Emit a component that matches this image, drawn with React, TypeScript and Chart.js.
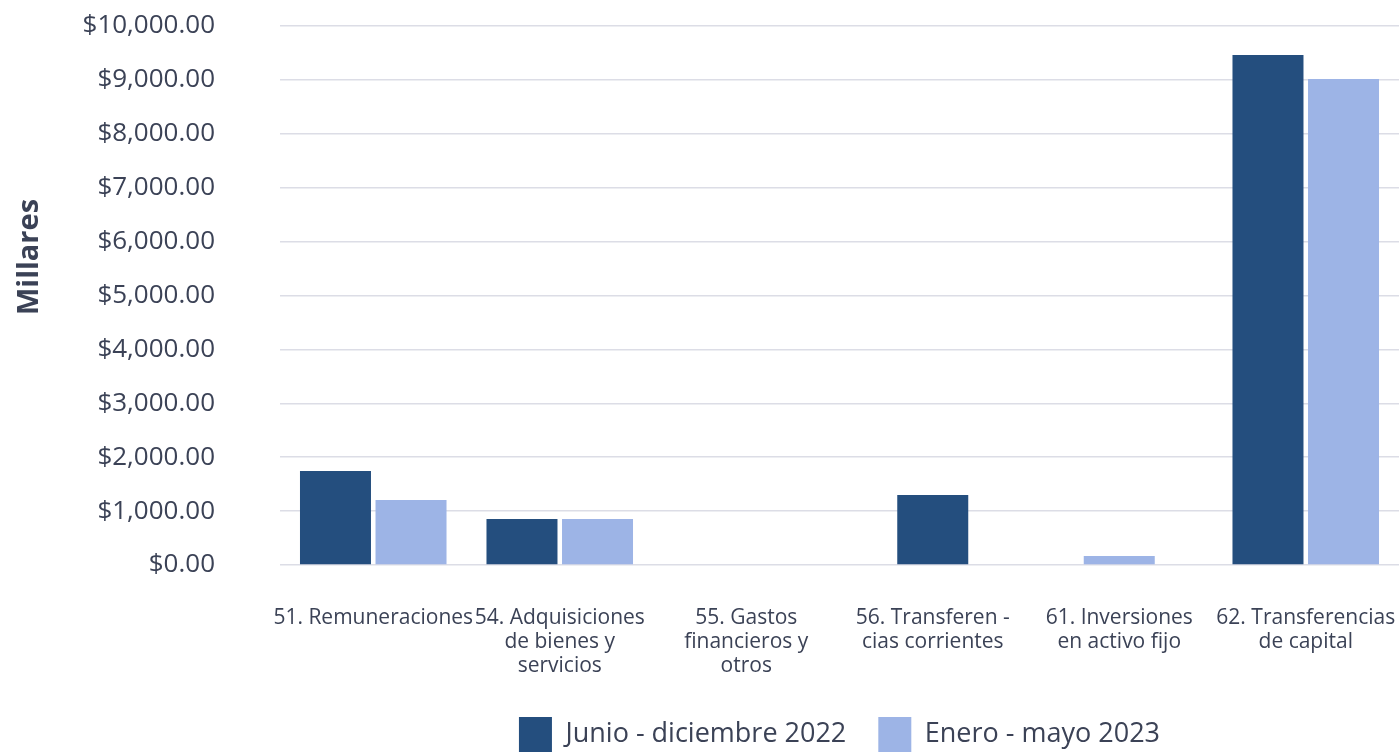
import React, { useEffect, useRef } from "react";
import { Chart, registerables } from "chart.js";

Chart.register(...registerables);

const categories: string[][] = [
  ["51. Remuneraciones"],
  ["54. Adquisiciones", "de bienes y", "servicios"],
  ["55. Gastos", "financieros y", "otros"],
  ["56. Transferen -", "cias corrientes"],
  ["61. Inversiones", "en activo fijo"],
  ["62. Transferencias", "de capital"],
];
const seriesNames = ["Junio - diciembre 2022", "Enero - mayo 2023"];
const junioDic2022: (number | null)[] = [1744, 853, null, 1299, null, 9463];
const eneroMayo2023: (number | null)[] = [1206, 853, null, null, 167, 9019];
const yAxisTitle = "Millares";

const TEXT = "#3b4256";
const FONT = "'Open Sans', Lato, sans-serif";
const CANVAS_H = 762;

const yTitlePlugin = {
  id: "yTitlePlugin",
  afterDraw(chart: any) {
    const ctx = chart.ctx;
    ctx.save();
    ctx.translate(30, 257);
    ctx.rotate(-Math.PI / 2);
    ctx.font = `bold 29px ${FONT}`;
    ctx.fillStyle = TEXT;
    ctx.textAlign = "center";
    ctx.textBaseline = "middle";
    ctx.fillText(yAxisTitle, 0, 0);
    ctx.restore();
  },
};

export default function App() {
  const ref = useRef<HTMLCanvasElement | null>(null);
  useEffect(() => {
    if (!ref.current) return;
    const chart = new Chart(ref.current, {
      type: "bar",
      data: {
        labels: categories,
        datasets: [
          {
            label: seriesNames[0],
            data: junioDic2022,
            backgroundColor: "#244e7e",
          },
          {
            label: seriesNames[1],
            data: eneroMayo2023,
            backgroundColor: "#9db4e6",
          },
        ],
      },
      options: {
        responsive: false,
        animation: false,
        maintainAspectRatio: false,
        skipNull: true,
        categoryPercentage: 0.81,
        barPercentage: 0.94,
        maxBarThickness: 71,
        layout: { padding: { top: 26, left: 0, right: 0, bottom: 0 } },
        plugins: {
          legend: {
            position: "bottom",
            fullSize: false,
            labels: {
              boxWidth: 33,
              boxHeight: 35,
              padding: 32,
              color: TEXT,
              font: { family: FONT, size: 27 },
            },
          },
          tooltip: { enabled: false },
        },
        scales: {
          x: {
            grid: { display: false, drawTicks: true, tickLength: 41 },
            border: { display: false },
            ticks: {
              color: TEXT,
              font: { family: FONT, size: 21, lineHeight: "24px" },
              padding: 0,
              maxRotation: 0,
              autoSkip: false,
            },
            afterFit(scale: any) {
              scale.height = 120;
            },
          },
          y: {
            min: 0,
            max: 10000,
            grid: {
              color: "#dcdde6",
              lineWidth: 1.5,
              drawTicks: true,
              tickLength: 65,
              tickColor: "rgba(0,0,0,0)",
            },
            border: { display: false },
            ticks: {
              stepSize: 1000,
              color: TEXT,
              padding: 0,
              font: { family: FONT, size: 26 },
              callback: (v: any) =>
                "$" +
                Number(v).toLocaleString("en-US", {
                  minimumFractionDigits: 2,
                  maximumFractionDigits: 2,
                }),
            },
            afterFit(scale: any) {
              scale.width = 280;
            },
          },
        },
      } as any,
      plugins: [yTitlePlugin],
    });
    return () => chart.destroy();
  }, []);
  return (
    <div
      style={{
        position: "absolute",
        left: 0,
        top: 0,
        width: 1399,
        height: 756,
        overflow: "hidden",
        background: "#fff",
      }}
    >
      <canvas ref={ref} width={1399} height={CANVAS_H} style={{ display: "block" }} />
    </div>
  );
}
